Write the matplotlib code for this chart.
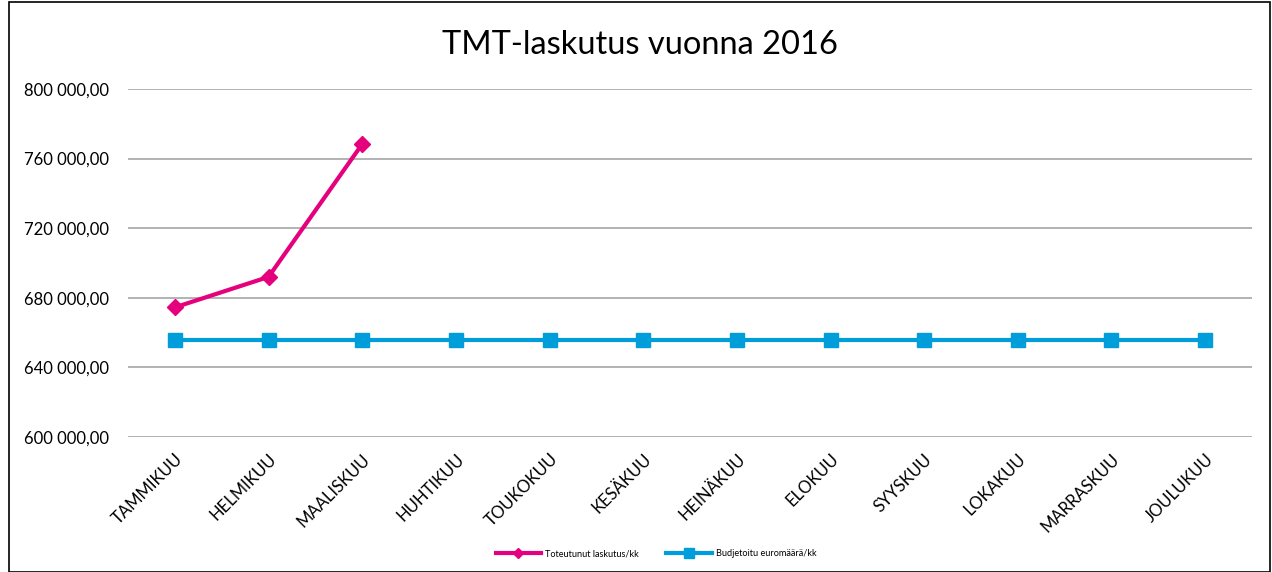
import matplotlib
matplotlib.use("Agg")
import matplotlib.pyplot as plt
from matplotlib.patches import Rectangle

months = ["TAMMIKUU", "HELMIKUU", "MAALISKUU", "HUHTIKUU", "TOUKOKUU", "KESÄKUU",
          "HEINÄKUU", "ELOKUU", "SYYSKUU", "LOKAKUU", "MARRASKUU", "JOULUKUU"]
actual = [674500, 692000, 768300]
budget = [656000] * 12
yticks = [600000, 640000, 680000, 720000, 760000, 800000]
ytick_labels = ["600 000,00", "640 000,00", "680 000,00", "720 000,00", "760 000,00", "800 000,00"]

plt.rcParams['font.family'] = ['Lato', 'DejaVu Sans']

fig = plt.figure(figsize=(12.72, 5.72), dpi=100)
ax = fig.add_axes([128/1272, 1-437/572, (1252-128)/1272, (437-89)/572])

x = list(range(len(months)))
ax.plot(x[:len(actual)], actual, color="#E5007D", lw=3, marker="D", ms=8,
        label="Toteutunut laskutus/kk", zorder=3)
ax.plot(x, budget, color="#009DDB", lw=3, marker="s", ms=10,
        label="Budjetoitu euromäärä/kk", zorder=3)

ax.set_xlim(-0.5, 11.5)
ax.set_ylim(600000, 800000)
ax.set_yticks(yticks)
ax.set_yticklabels(ytick_labels, fontsize=12)
ax.set_xticks(x)
ax.set_xticklabels(months, rotation=45, ha="right", rotation_mode="anchor", fontsize=12)
ax.tick_params(axis="y", length=0, pad=14)
ax.tick_params(axis="x", length=0, pad=10)
ax.grid(axis="y", color="#A6A6A6", lw=1.2)
ax.set_axisbelow(True)
for s in ax.spines.values():
    s.set_visible(False)

fig.text(0.503, 1-45/572, "TMT-laskutus vuonna 2016", ha="center", va="center", fontsize=23.5)

fig.legend(*ax.get_legend_handles_labels(), loc="center",
           bbox_to_anchor=(656/1272, 1-554/572), bbox_transform=fig.transFigure,
           ncol=2, frameon=False, fontsize=6.6, handlelength=5, handletextpad=0.4,
           columnspacing=3, markerscale=0.7)

fig.patches.append(Rectangle((9/1272, 0), (1270-9)/1272, 1-2/572, transform=fig.transFigure,
                             fill=False, edgecolor="black", lw=1.2))

fig.savefig("out.png", dpi=100)
